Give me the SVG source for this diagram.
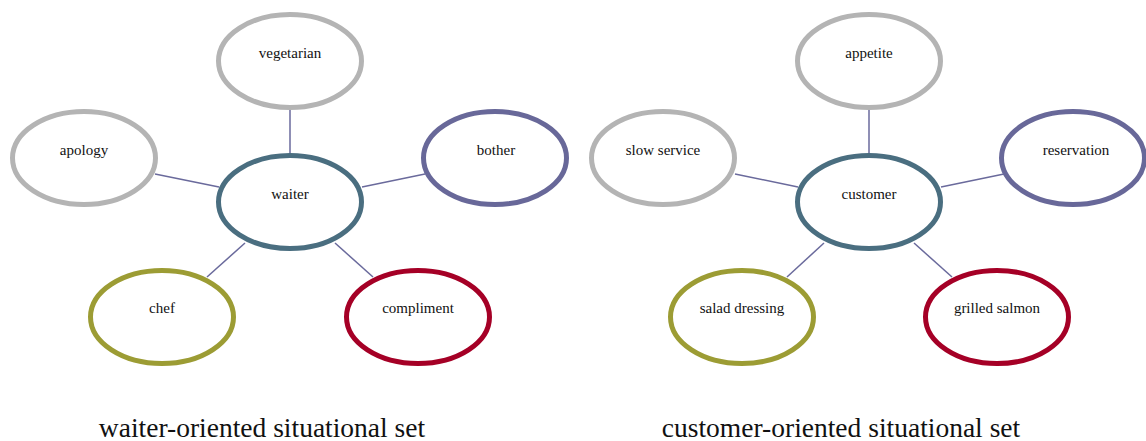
<svg xmlns="http://www.w3.org/2000/svg" width="1146" height="441" viewBox="0 0 1146 441">
<style>
.n ellipse{fill:#fff;stroke-width:5}
.gray ellipse{stroke:#b4b4b4}
.hub ellipse{stroke:#4a6e80}
.pur ellipse{stroke:#686899}
.oli ellipse{stroke:#9c9c34}
.red ellipse{stroke:#a50026}
.n text{font-family:"Liberation Serif",serif;font-size:15px;fill:#111;text-anchor:middle}
.edges line{stroke:#6a6a9c;stroke-width:1.5}
.cap{font-family:"Liberation Serif",serif;font-size:27.5px;fill:#111;text-anchor:middle}
</style>
<rect width="1146" height="441" fill="#fff"/>
<g class="edges">
<line x1="290" y1="110" x2="290" y2="155"/>
<line x1="155" y1="174" x2="219" y2="187"/>
<line x1="362" y1="187" x2="425" y2="174"/>
<line x1="245" y1="243" x2="207" y2="277"/>
<line x1="335" y1="243" x2="373" y2="277"/>
<line x1="869" y1="110" x2="869" y2="155"/>
<line x1="735" y1="174" x2="798" y2="187"/>
<line x1="941" y1="187" x2="1004" y2="174"/>
<line x1="824" y1="243" x2="787" y2="277"/>
<line x1="914" y1="243" x2="952" y2="277"/>
</g>
<g id="waiter" class="n hub"><ellipse cx="290" cy="202" rx="71.5" ry="46.5"/><text x="290" y="199">waiter</text></g>
<g id="vegetarian" class="n gray"><ellipse cx="290" cy="61" rx="71.5" ry="46.5"/><text x="290" y="58">vegetarian</text></g>
<g id="apology" class="n gray"><ellipse cx="84" cy="158" rx="71.5" ry="46.5"/><text x="84" y="155">apology</text></g>
<g id="bother" class="n pur"><ellipse cx="495" cy="158" rx="71.5" ry="46.5"/><text x="496" y="155">bother</text></g>
<g id="chef" class="n oli"><ellipse cx="162" cy="317" rx="71.5" ry="46.5"/><text x="162" y="313">chef</text></g>
<g id="compliment" class="n red"><ellipse cx="418" cy="317" rx="71.5" ry="46.5"/><text x="418" y="313">compliment</text></g>
<g id="customer" class="n hub"><ellipse cx="869" cy="202" rx="71.5" ry="46.5"/><text x="869" y="199">customer</text></g>
<g id="appetite" class="n gray"><ellipse cx="869" cy="61" rx="71.5" ry="46.5"/><text x="869" y="58">appetite</text></g>
<g id="slow-service" class="n gray"><ellipse cx="663" cy="158" rx="71.5" ry="46.5"/><text x="663" y="155">slow service</text></g>
<g id="reservation" class="n pur"><ellipse cx="1073" cy="158" rx="71.5" ry="46.5"/><text x="1076" y="155">reservation</text></g>
<g id="salad-dressing" class="n oli"><ellipse cx="742" cy="317" rx="71.5" ry="46.5"/><text x="742" y="313">salad dressing</text></g>
<g id="grilled-salmon" class="n red"><ellipse cx="997" cy="317" rx="71.5" ry="46.5"/><text x="997" y="313">grilled salmon</text></g>
<text class="cap" x="262" y="437">waiter-oriented situational set</text>
<text class="cap" x="841" y="437">customer-oriented situational set</text>
</svg>
